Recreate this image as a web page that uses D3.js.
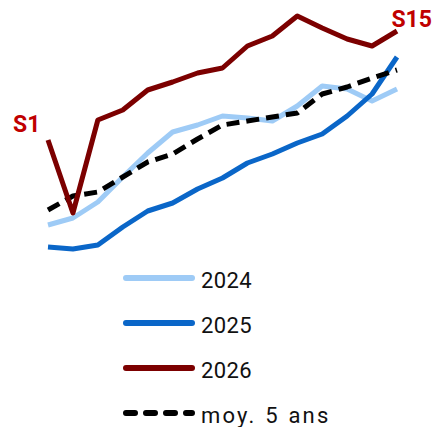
<!DOCTYPE html>
<html>
<head>
<meta charset="utf-8">
<script src="https://cdn.jsdelivr.net/npm/d3@7"></script>
<style>
  body { margin: 0; background: #fff; }
  text { font-family: Roboto, "DejaVu Sans", sans-serif; }
</style>
</head>
<body>
<script>
// weeks S1..S15
var weeks = d3.range(1, 16).map(function(d) { return "S" + d; });

var v2024 = [35, 42, 58, 83, 107, 128, 135, 144, 142, 139, 154, 174, 171, 159, 171];
var v2025 = [13, 11, 15, 33, 49, 57, 71, 82, 97, 106, 117, 126, 144, 166, 203];
var v2026 = [120, 47, 140, 150, 170, 178, 187, 192, 214, 224, 244, 232, 221, 214, 229];
var vMoy = [50, 64, 68, 83, 98, 106, 121, 135, 139, 143, 147, 166, 173, 182, 190];

var seriesNames = ["2024", "2025", "2026", "moy. 5 ans"];
var seriesColors = ["#9ecbf6", "#0a66c8", "#7c0000", "#000000"];

var width = 434, height = 427;

var svg = d3.select("body").append("svg")
            .attr("width", width)
            .attr("height", height);

var x = d3.scalePoint().domain(weeks).range([48, 397]);
var y = d3.scaleLinear().domain([0, 250]).range([260, 10]);

var line = d3.line()
             .x(function(d, i) { return x(weeks[i]); })
             .y(function(d) { return y(d); });

var series = [
  { name: "2024", values: v2024, color: seriesColors[0], dash: null },
  { name: "2025", values: v2025, color: seriesColors[1], dash: null },
  { name: "moy. 5 ans", values: vMoy, color: seriesColors[3], dash: "13,7" },
  { name: "2026", values: v2026, color: seriesColors[2], dash: null }
];

svg.append("g")
   .classed("lines", true)
   .selectAll("path")
   .data(series)
   .enter()
     .append("path")
     .attr("d", function(d) { return line(d.values); })
     .attr("fill", "none")
     .attr("stroke", function(d) { return d.color; })
     .attr("stroke-width", 5)
     .attr("stroke-linejoin", "round")
     .attr("stroke-dasharray", function(d) { return d.dash; });

// S1 / S15 labels on the 2026 line
svg.append("text")
   .attr("x", 13)
   .attr("y", 132)
   .attr("fill", "#c00000")
   .attr("font-weight", "bold")
   .attr("font-size", 23)
   .text(weeks[0]);

svg.append("text")
   .attr("x", 432)
   .attr("y", 27)
   .attr("text-anchor", "end")
   .attr("fill", "#c00000")
   .attr("font-weight", "bold")
   .attr("font-size", 23)
   .text(weeks[14]);

// legend
var legend = svg.append("g")
                .classed("legend", true)
                .attr("transform", "translate(0,278)");

var items = legend.selectAll("g.item")
                  .data(seriesNames)
                  .enter()
                    .append("g")
                    .classed("item", true)
                    .attr("transform", function(d, i) { return "translate(0," + (i * 45) + ")"; });

items.append("line")
     .attr("x1", 126)
     .attr("x2", 192)
     .attr("y1", 0)
     .attr("y2", 0)
     .attr("stroke", function(d, i) { return seriesColors[i]; })
     .attr("stroke-width", 6)
     .attr("stroke-linecap", "round")
     .attr("stroke-dasharray", function(d, i) { return i == 3 ? "9,11" : null; });

items.append("text")
     .attr("x", 201)
     .attr("y", 10)
     .attr("font-size", 22)
     .attr("fill", "#111")
     .attr("letter-spacing", function(d, i) { return i == 3 ? 2.2 : 0.4; })
     .attr("word-spacing", function(d, i) { return i == 3 ? 1 : 0; })
     .text(function(d) { return d; });
</script>
</body>
</html>
